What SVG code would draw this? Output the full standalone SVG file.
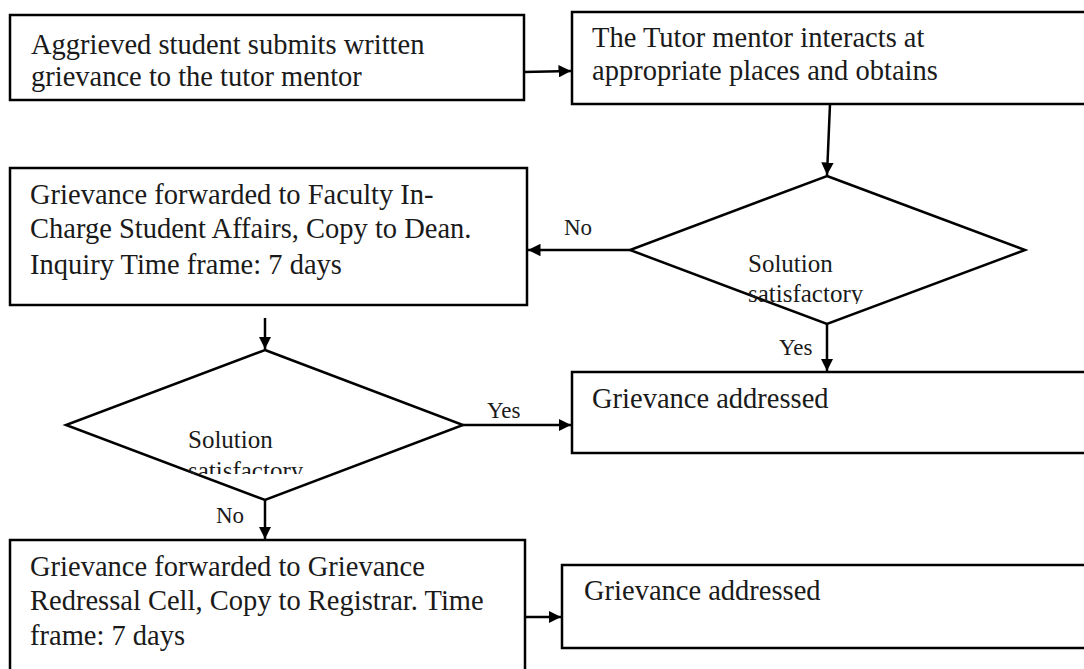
<svg xmlns="http://www.w3.org/2000/svg" width="1084" height="669" viewBox="0 0 1084 669">
<style>
.box{fill:#fff;stroke:#000;stroke-width:2.5}
.dia{fill:#fff;stroke:#000;stroke-width:2.5}
.t{font-family:"Liberation Serif","Times New Roman",serif;font-size:28.5px;fill:#1a1a1a}
.d{font-family:"Liberation Serif","Times New Roman",serif;font-size:25px;fill:#1a1a1a}
.l{font-family:"Liberation Serif","Times New Roman",serif;font-size:23px;fill:#1a1a1a}
.c{stroke:#000;stroke-width:2.5;fill:none;marker-end:url(#ah)}
</style>
<defs>
<marker id="ah" viewBox="0 0 10 10" refX="10" refY="5" markerWidth="5" markerHeight="5" markerUnits="strokeWidth" orient="auto">
<path d="M0,0 L10,5 L0,10 z" fill="#000"/>
</marker>
<clipPath id="clip1"><rect x="600" y="170" width="440" height="134"/></clipPath>
<clipPath id="clip2"><rect x="50" y="345" width="430" height="129"/></clipPath>
</defs>
<rect width="1084" height="669" fill="#fff"/>
<g id="n1">
<rect class="box" x="10" y="15" width="514" height="85"/>
<text class="t" x="31" y="54">Aggrieved student submits written</text>
<text class="t" x="31" y="86">grievance to the tutor mentor</text>
</g>
<g id="n2">
<rect class="box" x="572" y="12" width="530" height="92"/>
<text class="t" x="592" y="47">The Tutor mentor interacts at</text>
<text class="t" x="592" y="80">appropriate places and obtains</text>
</g>
<g id="n3">
<polygon class="dia" points="827,176 1025,250 827,324 630,250"/>
<g clip-path="url(#clip1)">
<text class="d" x="748" y="272">Solution</text>
<text class="d" x="748" y="302">satisfactory</text>
</g>
</g>
<g id="n4">
<rect class="box" x="10" y="168" width="517" height="137"/>
<text class="t" x="30" y="204">Grievance forwarded to Faculty In-</text>
<text class="t" x="30" y="238">Charge Student Affairs, Copy to Dean.</text>
<text class="t" x="30" y="274">Inquiry Time frame: 7 days</text>
</g>
<g id="n5">
<rect class="box" x="572" y="372" width="530" height="81"/>
<text class="t" x="592" y="408">Grievance addressed</text>
</g>
<g id="n6">
<polygon class="dia" points="265,350 463,425 265,500 66,425"/>
<g clip-path="url(#clip2)">
<text class="d" x="188" y="448">Solution</text>
<text class="d" x="188" y="479">satisfactory</text>
</g>
</g>
<g id="n7">
<rect class="box" x="10" y="540" width="515" height="140"/>
<text class="t" x="30" y="576">Grievance forwarded to Grievance</text>
<text class="t" x="30" y="610">Redressal Cell, Copy to Registrar. Time</text>
<text class="t" x="30" y="645">frame: 7 days</text>
</g>
<g id="n8">
<rect class="box" x="562" y="565" width="540" height="83"/>
<text class="t" x="584" y="600">Grievance addressed</text>
</g>
<g id="connectors">
<path class="c" d="M524,72 L571,71"/>
<path class="c" d="M830,104 L827,175"/>
<path class="c" d="M630,250 L528,250"/>
<path class="c" d="M827,324 L827,371"/>
<path class="c" d="M265,318 L265,349"/>
<path class="c" d="M463,425 L571,425"/>
<path class="c" d="M265,500 L265,539"/>
<path class="c" d="M525,617 L561,617"/>
<text class="l" x="564" y="235">No</text>
<text class="l" x="779" y="355">Yes</text>
<text class="l" x="487" y="418">Yes</text>
<text class="l" x="216" y="523">No</text>
</g>
</svg>
